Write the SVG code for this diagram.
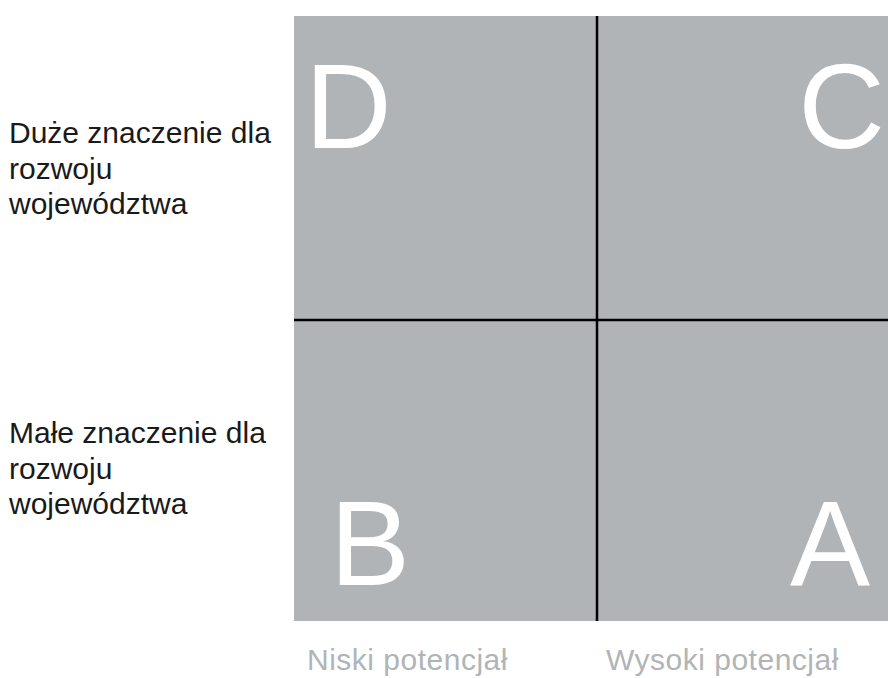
<svg xmlns="http://www.w3.org/2000/svg" width="888" height="678" viewBox="0 0 888 678">
<style>
.lbl{font-family:"Liberation Sans",Arial,sans-serif;font-size:30px;fill:#1a1a1a}
.ax{font-family:"Liberation Sans",Arial,sans-serif;font-size:30px;letter-spacing:0.5px;fill:#b1b4b7}
.big{font-family:"Liberation Sans",Arial,sans-serif;font-size:120px;fill:#ffffff}
.q{fill:#b1b4b7}
.div{stroke:#000000;stroke-width:2.5;fill:none}
</style>
<rect width="888" height="678" fill="#ffffff"/>
<g id="quadrant-D"><rect class="q" x="294" y="16" width="303" height="304"/><text class="big" x="305" y="148">D</text></g>
<g id="quadrant-C"><rect class="q" x="597" y="16" width="291" height="304"/><text class="big" x="885" y="148" text-anchor="end">C</text></g>
<g id="quadrant-B"><rect class="q" x="294" y="320" width="303" height="301"/><text class="big" x="330" y="585">B</text></g>
<g id="quadrant-A"><rect class="q" x="597" y="320" width="291" height="301"/><text class="big" x="870" y="585" text-anchor="end">A</text></g>
<g id="connectors">
<line class="div" x1="597" y1="16" x2="597" y2="621"/>
<line class="div" x1="294" y1="320" x2="888" y2="320"/>
</g>
<g id="label-high"><text class="lbl" x="9" y="143"><tspan x="9">Duże znaczenie dla</tspan><tspan x="9" y="179">rozwoju</tspan><tspan x="9" y="214">województwa</tspan></text></g>
<g id="label-low"><text class="lbl" x="9" y="443"><tspan x="9">Małe znaczenie dla</tspan><tspan x="9" y="479">rozwoju</tspan><tspan x="9" y="514">województwa</tspan></text></g>
<g id="label-lowpot"><text class="ax" x="307" y="670">Niski potencjał</text></g>
<g id="label-highpot"><text class="ax" x="606" y="670">Wysoki potencjał</text></g>
</svg>
